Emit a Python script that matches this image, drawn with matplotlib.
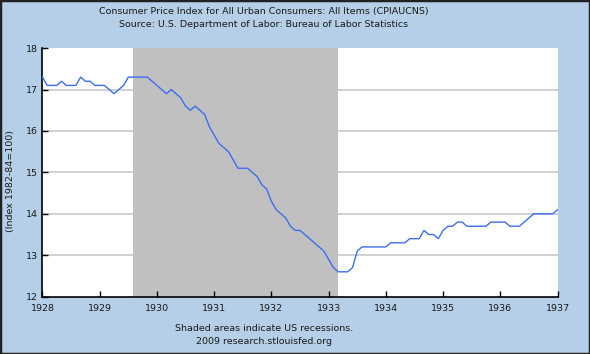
import matplotlib
matplotlib.use("Agg")
import matplotlib.pyplot as plt
from matplotlib.patches import Rectangle

# monthly CPI, Jan 1928 .. Jan 1937
cpi_1928 = [17.3, 17.1, 17.1, 17.1, 17.2, 17.1, 17.1, 17.1, 17.3, 17.2, 17.2, 17.1]
cpi_1929 = [17.1, 17.1, 17.0, 16.9, 17.0, 17.1, 17.3, 17.3, 17.3, 17.3, 17.3, 17.2]
cpi_1930 = [17.1, 17.0, 16.9, 17.0, 16.9, 16.8, 16.6, 16.5, 16.6, 16.5, 16.4, 16.1]
cpi_1931 = [15.9, 15.7, 15.6, 15.5, 15.3, 15.1, 15.1, 15.1, 15.0, 14.9, 14.7, 14.6]
cpi_1932 = [14.3, 14.1, 14.0, 13.9, 13.7, 13.6, 13.6, 13.5, 13.4, 13.3, 13.2, 13.1]
cpi_1933 = [12.9, 12.7, 12.6, 12.6, 12.6, 12.7, 13.1, 13.2, 13.2, 13.2, 13.2, 13.2]
cpi_1934 = [13.2, 13.3, 13.3, 13.3, 13.3, 13.4, 13.4, 13.4, 13.6, 13.5, 13.5, 13.4]
cpi_1935 = [13.6, 13.7, 13.7, 13.8, 13.8, 13.7, 13.7, 13.7, 13.7, 13.7, 13.8, 13.8]
cpi_1936 = [13.8, 13.8, 13.7, 13.7, 13.7, 13.8, 13.9, 14.0, 14.0, 14.0, 14.0, 14.0]
cpi_1937 = [14.1]

cpi = (cpi_1928 + cpi_1929 + cpi_1930 + cpi_1931 + cpi_1932
       + cpi_1933 + cpi_1934 + cpi_1935 + cpi_1936 + cpi_1937)
start_year = 1928
dates = [start_year + i / 12 for i in range(len(cpi))]

# recession Aug 1929 - Mar 1933
recession = (1929 + 7 / 12, 1933 + 2 / 12)

year_ticks = list(range(1928, 1938))
y_ticks = [12, 13, 14, 15, 16, 17, 18]

bg = "#b4cfe7"
txt = "#1a1a1a"
fs = 6.8

fig = plt.figure(figsize=(5.9, 3.54), dpi=100, facecolor=bg)
ax = fig.add_axes([0.072, 0.162, 0.873, 0.702])
ax.set_facecolor("white")

ax.axvspan(*recession, color="#c0c0c0", lw=0, zorder=1)
for y in y_ticks[1:-1]:
    ax.axhline(y, color="#c8c8c8", lw=1.2, zorder=0.5)
ax.plot(dates, cpi, color="#3d6df2", lw=1.0, zorder=3)

ax.set_xlim(1928, 1937)
ax.set_ylim(12, 18)
ax.set_xticks(year_ticks)
ax.set_yticks(y_ticks)
ax.tick_params(direction="in", length=4, width=1, colors="black",
               labelcolor=txt, labelsize=fs)
ax.tick_params(axis="x", pad=5.5)
ax.tick_params(axis="y", pad=3)
for side in ["top", "right"]:
    ax.spines[side].set_visible(False)
for side in ["left", "bottom"]:
    ax.spines[side].set_linewidth(1.2)

fig.text(0.018, 0.49, "(Index 1982-84=100)", rotation=90, ha="center",
         va="center", fontsize=fs, color=txt)

fig.text(0.447, 0.968, "Consumer Price Index for All Urban Consumers: All Items (CPIAUCNS)",
         ha="center", va="center", fontsize=fs, color=txt)
fig.text(0.447, 0.932, "Source: U.S. Department of Labor: Bureau of Labor Statistics",
         ha="center", va="center", fontsize=fs, color=txt)
fig.text(0.447, 0.072, "Shaded areas indicate US recessions.",
         ha="center", va="center", fontsize=fs, color=txt)
fig.text(0.447, 0.034, "2009 research.stlouisfed.org",
         ha="center", va="center", fontsize=fs, color=txt)

fig.patches.append(Rectangle((0, 0), 1, 1, transform=fig.transFigure,
                             fill=False, edgecolor="#222222", lw=2.5))

fig.savefig("out.png", dpi=100, facecolor=bg)
